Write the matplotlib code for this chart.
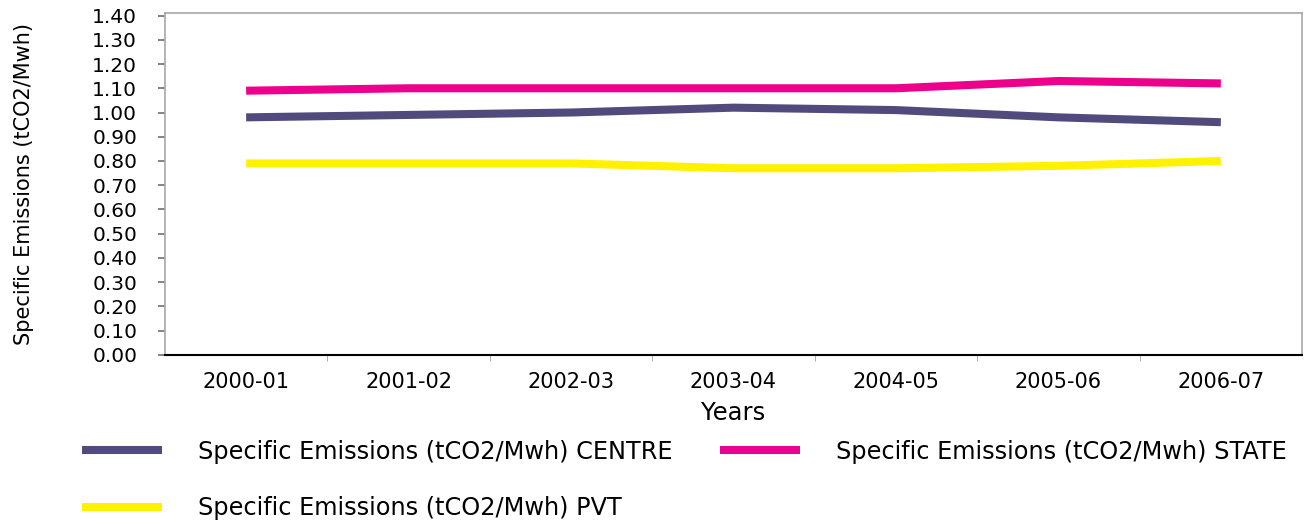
import numpy as np
import matplotlib.pyplot as plt
from matplotlib.ticker import FixedLocator, MultipleLocator

plt.rcParams['font.family'] = ['DejaVu Sans']

years = ['2000-01', '2001-02', '2002-03', '2003-04', '2004-05', '2005-06', '2006-07']
centre = [0.98, 0.99, 1.00, 1.02, 1.01, 0.98, 0.96]
state = [1.09, 1.10, 1.10, 1.10, 1.10, 1.13, 1.12]
pvt = [0.79, 0.79, 0.79, 0.77, 0.77, 0.78, 0.80]

labels = ['Specific Emissions (tCO2/Mwh) CENTRE',
          'Specific Emissions (tCO2/Mwh) STATE',
          'Specific Emissions (tCO2/Mwh) PVT']
colors = ['#514a7d', '#ec008c', '#fff200']

fig = plt.figure(figsize=(13.09, 5.25), dpi=100)
ax = fig.add_axes([0.126, 0.324, 0.8687, 0.651])

x = np.arange(len(years))
lines = []
for vals, col, lab in zip([centre, state, pvt], colors, labels):
    ln, = ax.plot(x, vals, color=col, lw=5.8, label=lab,
                  solid_joinstyle='round', solid_capstyle='butt')
    lines.append(ln)

ax.set_xlim(-0.5, 6.5)
ax.set_ylim(0, 1.41)
ax.yaxis.set_major_locator(MultipleLocator(0.1))
ax.yaxis.set_major_formatter(plt.FuncFormatter(lambda v, p: f'{v:.2f}'))
ax.tick_params(axis='y', labelsize=14.5, length=5, width=1.2, color='#707070', pad=15)

ax.set_xticks(x)
ax.set_xticklabels(years, fontsize=15)
ax.xaxis.set_minor_locator(FixedLocator(np.arange(0.5, 6.5, 1)))
ax.tick_params(axis='x', which='major', length=0, pad=12)
ax.tick_params(axis='x', which='minor', length=4, color='#a0a0a0')

for s in ['top', 'right', 'left']:
    ax.spines[s].set_color('#a8a8a8')
    ax.spines[s].set_linewidth(1.2)
ax.spines['bottom'].set_color('black')
ax.spines['bottom'].set_linewidth(1.5)

ax.set_ylabel('Specific Emissions (tCO2/Mwh)', fontsize=15, labelpad=42)
ax.set_xlabel('Years', fontsize=17.5, labelpad=7)

fig.legend([lines[0], lines[2], lines[1]], [labels[0], labels[2], labels[1]],
           ncol=2, loc='upper left', bbox_to_anchor=(0.055, 0.181),
           frameon=False, fontsize=17.3, handlelength=3.33, handletextpad=1.5,
           columnspacing=2.0, labelspacing=1.36, borderaxespad=0)

fig.savefig('out.png', dpi=100)
